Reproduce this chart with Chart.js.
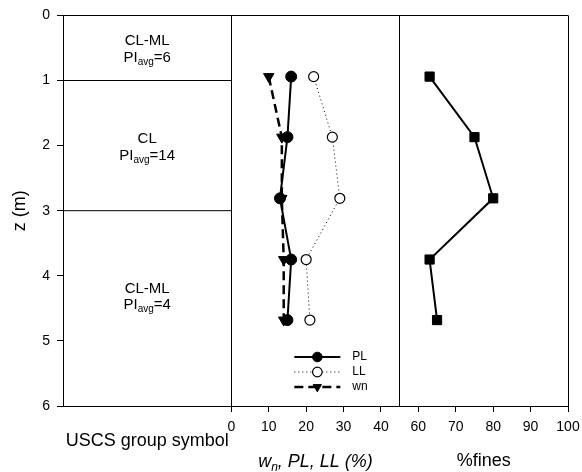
<!DOCTYPE html>
<html>
<head>
<title>Soil profile</title>
<script src="https://cdn.jsdelivr.net/npm/chart.js"></script>
<style>
    body { margin: 0; background: #fff; }
    .chart-container { width: 582px; height: 472px; }
</style>
</head>
<body>
<div class="chart-container">
    <canvas id="profileChart"></canvas>
</div>

<script>
    // sample depths (m) and measured values
    const depth = [0.94, 1.87, 2.81, 3.75, 4.68];
    const plasticLimit = [16, 15, 13, 16, 15];
    const liquidLimit = [22, 27, 29, 20, 21];
    const waterContent = [10, 13.5, 13.5, 14, 14];
    const fines = [63, 75, 80, 63, 65];

    // soil layers (USCS)
    const layerBoundaries = [1, 3];
    const layerSymbols = ['CL-ML', 'CL', 'CL-ML'];
    const layerPIavg = [6, 14, 4];
    const layerLabelDepth = [0.5, 2, 4.3];

    // tick labels
    const depthTicks = [0, 1, 2, 3, 4, 5, 6];
    const limitTicks = [0, 10, 20, 30, 40];
    const finesTicks = [60, 70, 80, 90, 100];

    const FONT = "'Liberation Sans', Arial, sans-serif";
    Chart.defaults.font.family = FONT;
    Chart.defaults.font.size = 14;
    Chart.defaults.color = '#000';

    const points = (xs) => depth.map((z, i) => ({x: xs[i], y: z}));

    const datasets = [
        {
            label: 'PL', xAxisID: 'xLim', data: points(plasticLimit),
            borderColor: '#000', backgroundColor: '#000', borderWidth: 2,
            pointStyle: 'circle', pointRadius: 5.5, pointBorderWidth: 1
        },
        {
            label: 'LL', xAxisID: 'xLim', data: points(liquidLimit),
            borderColor: '#000', backgroundColor: '#fff', borderWidth: 1, borderDash: [1, 3],
            pointStyle: 'circle', pointRadius: 5, pointBorderWidth: 1.2
        },
        {
            label: 'wn', xAxisID: 'xLim', data: points(waterContent),
            borderColor: '#000', backgroundColor: '#000', borderWidth: 2.5, borderDash: [9, 5],
            pointStyle: 'triangle', pointRotation: 180, pointRadius: 6, pointBorderWidth: 1
        },
        {
            label: 'fines', xAxisID: 'xFines', data: points(fines),
            borderColor: '#000', backgroundColor: '#000', borderWidth: 2,
            pointStyle: 'rect', pointRadius: 6.5, pointBorderWidth: 1
        }
    ];

    // layer boundary lines across the USCS column
    layerBoundaries.forEach(z => {
        datasets.push({
            label: 'boundary', xAxisID: 'xSoil', data: [{x: 0, y: z}, {x: 1, y: z}],
            borderColor: '#000', borderWidth: 1, pointRadius: 0
        });
    });

    const legendLabels = ['PL', 'LL', 'wn'];

    // draw text made of parts (for subscripts), centred on cx, at baseline by
    function drawRich(ctx, parts, cx, by) {
        let total = 0;
        parts.forEach(p => {
            ctx.font = (p.italic ? 'italic ' : '') + p.size + 'px ' + FONT;
            p.w = ctx.measureText(p.text).width;
            total += p.w;
        });
        let x = cx - total / 2;
        ctx.textAlign = 'left';
        ctx.textBaseline = 'alphabetic';
        parts.forEach(p => {
            ctx.font = (p.italic ? 'italic ' : '') + p.size + 'px ' + FONT;
            ctx.fillText(p.text, x, by + (p.dy || 0));
            x += p.w;
        });
    }

    function drawMarker(ctx, style, r, x, y) {
        ctx.beginPath();
        if (style === 'triangle') {
            const s = r * Math.sin(Math.PI / 3);
            ctx.moveTo(x, y + r);
            ctx.lineTo(x - s, y - r / 2);
            ctx.lineTo(x + s, y - r / 2);
            ctx.closePath();
        } else if (style === 'rect') {
            const h = r * Math.SQRT1_2;
            ctx.rect(x - h, y - h, 2 * h, 2 * h);
        } else {
            ctx.arc(x, y, r, 0, Math.PI * 2);
        }
        ctx.fill();
        ctx.stroke();
    }

    const annotations = {
        id: 'annotations',
        afterDatasetsDraw(chart) {
            const {ctx, scales, chartArea} = chart;
            const soil = scales.xSoil, yScale = scales.y, lim = scales.xLim;
            const cx = (soil.left + soil.right) / 2;
            ctx.save();
            ctx.fillStyle = '#000';

            // USCS labels
            layerSymbols.forEach((sym, i) => {
                const yc = yScale.getPixelForValue(layerLabelDepth[i]);
                drawRich(ctx, [{text: sym, size: 15}], cx, yc - 2.5);
                drawRich(ctx, [
                    {text: 'PI', size: 15},
                    {text: 'avg', size: 10, dy: 3},
                    {text: '=' + layerPIavg[i], size: 15}
                ], cx, yc + 14);
            });

            // title of middle axis with subscript
            drawRich(ctx, [
                {text: 'w', size: 18, italic: true},
                {text: 'n', size: 12, dy: 4, italic: true},
                {text: ', PL, LL (%)', size: 18, italic: true}
            ], (lim.left + lim.right) / 2, 467);

            // legend
            const x0 = lim.left + 63, x1 = lim.left + 109, xm = (x0 + x1) / 2;
            let ly = chartArea.bottom - 49;
            legendLabels.forEach(lbl => {
                const ds = chart.data.datasets.find(d => d.label === lbl);
                ctx.strokeStyle = ds.borderColor;
                ctx.lineWidth = ds.borderWidth;
                ctx.setLineDash(ds.borderDash || []);
                ctx.beginPath();
                ctx.moveTo(x0, ly);
                ctx.lineTo(x1, ly);
                ctx.stroke();
                ctx.setLineDash([]);
                ctx.lineWidth = ds.pointBorderWidth;
                ctx.fillStyle = ds.backgroundColor;
                drawMarker(ctx, ds.pointStyle, 4.8, xm, ly);
                ctx.fillStyle = '#000';
                ctx.font = '12px ' + FONT;
                ctx.textAlign = 'left';
                ctx.textBaseline = 'middle';
                ctx.fillText(lbl, lim.left + 121, ly);
                ly += 15;
            });
            ctx.restore();
        }
    };

    const setTicks = (list) => (scale) => { scale.ticks = list.map(v => ({value: v})); };
    const fitX = (scale) => {
        scale.height = 66;
        scale.paddingLeft = 0;
        scale.paddingRight = 0;
    };

    const ctx = document.getElementById('profileChart').getContext('2d');
    const profileChart = new Chart(ctx, {
        type: 'scatter',
        data: {datasets: datasets},
        plugins: [annotations],
        options: {
            responsive: true,
            maintainAspectRatio: false,
            animation: false,
            events: [],
            showLine: true,
            layout: {padding: {top: 14, right: 14, bottom: 0, left: 0}},
            plugins: {legend: {display: false}, tooltip: {enabled: false}},
            scales: {
                y: {
                    type: 'linear', position: 'left', reverse: true, min: 0, max: 6,
                    afterBuildTicks: setTicks(depthTicks),
                    afterFit: (s) => { s.width = 63; },
                    ticks: {padding: 7},
                    grid: {
                        color: (c) => c.tick && c.tick.value === 0 ? '#000' : 'rgba(0,0,0,0)',
                        tickColor: '#000', tickLength: 6
                    },
                    border: {color: '#000'},
                    title: {display: true, text: 'z (m)', font: {size: 18}, padding: {top: 9, bottom: 0}}
                },
                xSoil: {
                    type: 'linear', axis: 'x', position: 'bottom', stack: 'x', stackWeight: 1, weight: 1,
                    min: 0, max: 1,
                    afterBuildTicks: setTicks([]),
                    afterFit: fitX,
                    ticks: {display: false},
                    grid: {display: false},
                    border: {color: '#000'},
                    title: {display: true, text: 'USCS group symbol', font: {size: 18}, padding: {top: 0, bottom: 20}}
                },
                xLim: {
                    type: 'linear', axis: 'x', position: 'bottom', stack: 'x', stackWeight: 1, weight: 2,
                    min: 0, max: 45,
                    afterBuildTicks: setTicks(limitTicks.concat([45])),
                    afterFit: fitX,
                    ticks: {padding: 7, maxRotation: 0, minRotation: 0, autoSkip: false,
                        callback: (v) => limitTicks.includes(v) ? v : ''},
                    grid: {
                        color: (c) => c.tick && (c.tick.value === 0 || c.tick.value === 45) ? '#000' : 'rgba(0,0,0,0)',
                        tickColor: (c) => c.tick && limitTicks.includes(c.tick.value) ? '#000' : 'rgba(0,0,0,0)',
                        tickLength: 6
                    },
                    border: {color: '#000'}
                },
                xFines: {
                    type: 'linear', axis: 'x', position: 'bottom', stack: 'x', stackWeight: 1, weight: 3,
                    min: 55, max: 100,
                    afterBuildTicks: setTicks(finesTicks),
                    afterFit: fitX,
                    ticks: {padding: 7, maxRotation: 0, minRotation: 0, autoSkip: false},
                    grid: {
                        color: (c) => c.tick && c.tick.value === 100 ? '#000' : 'rgba(0,0,0,0)',
                        tickColor: '#000', tickLength: 6
                    },
                    border: {color: '#000'},
                    title: {display: true, text: '%fines', font: {size: 18}, padding: {top: 0, bottom: 0}}
                }
            }
        }
    });
</script>
</body>
</html>
